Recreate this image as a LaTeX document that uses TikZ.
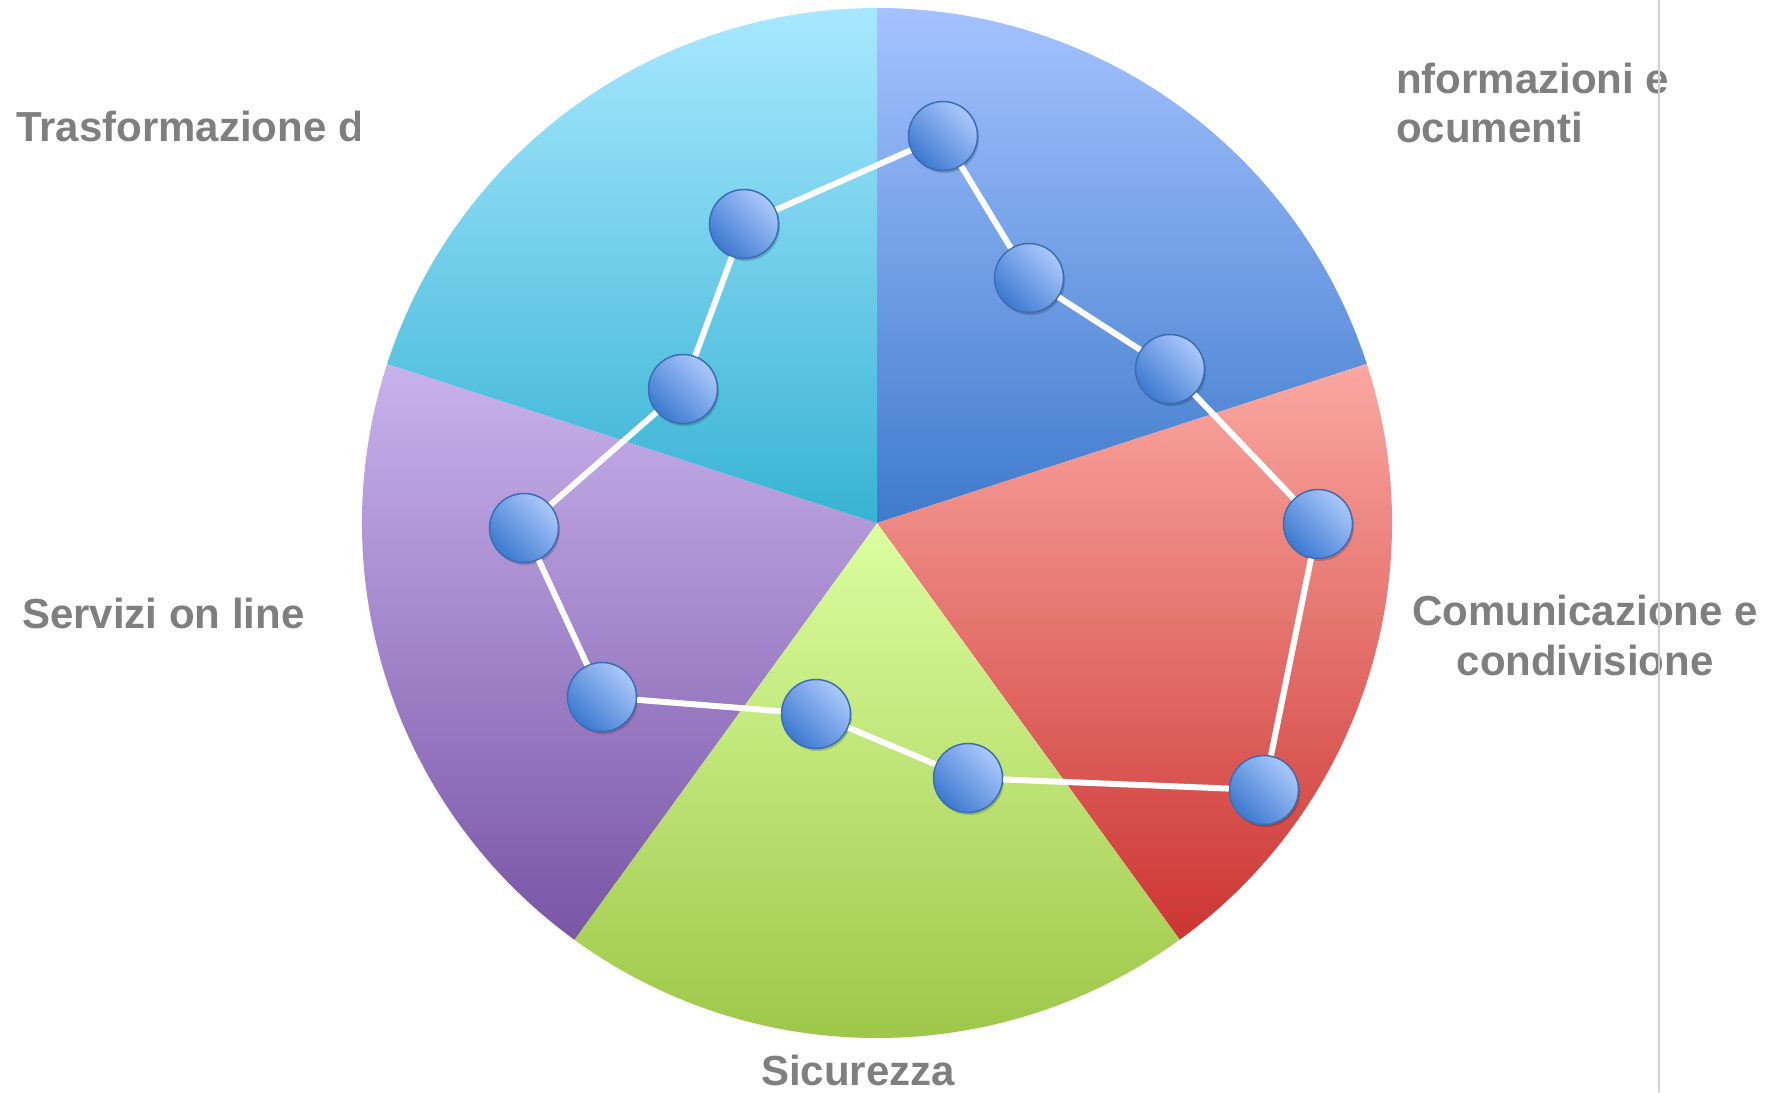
\documentclass[tikz,border=0pt]{standalone}
\usepackage{fontspec}
\setmainfont{Liberation Sans}
\usetikzlibrary{shadows}
\definecolor{txtgray}{HTML}{7F7F7F}
\definecolor{blueT}{HTML}{A4C2FF}\definecolor{blueB}{HTML}{3E7BCB}
\definecolor{redT}{HTML}{FAA8A1}\definecolor{redB}{HTML}{CC3532}
\definecolor{greenT}{HTML}{DCFEA0}\definecolor{greenB}{HTML}{9AC443}
\definecolor{purpT}{HTML}{C8B2EC}\definecolor{purpB}{HTML}{7955A6}
\definecolor{cyanT}{HTML}{A8E8FF}\definecolor{cyanB}{HTML}{37B3D3}
\definecolor{dotL}{HTML}{ABC8FC}\definecolor{dotD}{HTML}{3C79CF}
\definecolor{dotE}{HTML}{3A6DB3}
\tikzset{
  dot/.style={circle, minimum size=69, inner sep=0pt, draw=dotE, line width=1.5pt,
    top color=dotL, bottom color=dotD, shading angle=-45,
    drop shadow={opacity=0.18, shadow xshift=1.5pt, shadow yshift=-2.5pt, fill=black}},
  link/.style={draw=white, line width=6pt},
  lbl/.style={text=txtgray, font=\bfseries\fontsize{42}{49}\selectfont, inner sep=0pt}
}
\begin{document}
\begin{tikzpicture}[x=1pt,y=-1pt]
\useasboundingbox (0,0) rectangle (1777,1092);
\fill[white] (0,0) rectangle (1777,1092);
\coordinate (O) at (877,523);
% wedges (angles negated because the y axis points down)
\path[top color=blueT, bottom color=blueB] (O) -- ++(-18:515) arc[start angle=-18, end angle=-90, radius=515] -- cycle;
\path[top color=redT, bottom color=redB] (O) -- ++(54:515) arc[start angle=54, end angle=-18, radius=515] -- cycle;
\path[top color=greenT, bottom color=greenB] (O) -- ++(126:515) arc[start angle=126, end angle=54, radius=515] -- cycle;
\path[top color=purpT, bottom color=purpB] (O) -- ++(-162:515) arc[start angle=-162, end angle=-234, radius=515] -- cycle;
\path[top color=cyanT, bottom color=cyanB] (O) -- ++(-90:515) arc[start angle=-90, end angle=-162, radius=515] -- cycle;
% dots
\node[dot] (d1) at (943,136) {};
\node[dot] (d2) at (1029,278) {};
\node[dot] (d3) at (1170,369) {};
\node[dot] (d4) at (1318,524) {};
\node[dot] (d5) at (1264,790) {};
\node[dot] (d6) at (968,778) {};
\node[dot] (d7) at (816,714) {};
\node[dot] (d8) at (602,697) {};
\node[dot] (d9) at (524,528) {};
\node[dot] (d10) at (683,389) {};
\node[dot] (d11) at (744,224) {};
\path[link] (d1) -- (d2) (d2) -- (d3) (d3) -- (d4) (d4) -- (d5) (d5) -- (d6) (d6) -- (d7)
  (d7) -- (d8) (d8) -- (d9) (d9) -- (d10) (d10) -- (d11) (d11) -- (d1);
% labels
\begin{scope}
\clip (0,0) rectangle (359,300);
\node[lbl, anchor=base west] (tras) at (16,141) {Trasformazione d};
\end{scope}
\node[lbl, anchor=base west] (inf1) at (1396,93) {nformazioni e};
\node[lbl, anchor=base west] (inf2) at (1396,142) {ocumenti};
\node[lbl, anchor=base] (com1) at (1585,625) {Comunicazione e};
\node[lbl, anchor=base] (com2) at (1585,675) {condivisione};
\node[lbl, anchor=base west] (serv) at (22,628) {Servizi on line};
\node[lbl, anchor=base] (sic) at (858,1085) {Sicurezza};
\draw[draw=black!18, line width=1.5pt] (1659,0) -- (1659,1092);
\end{tikzpicture}
\end{document}
